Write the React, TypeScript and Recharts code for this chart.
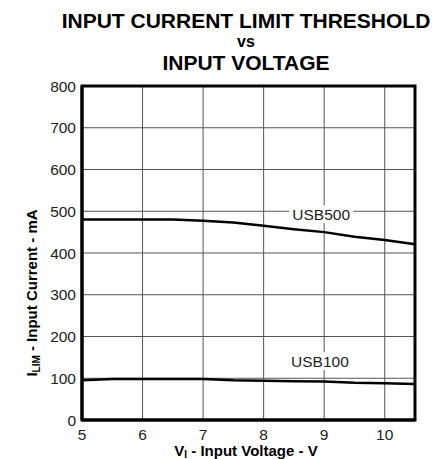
import {
    LineChart,
    Line,
    XAxis,
    YAxis,
    CartesianGrid,
    ReferenceArea,
    ReferenceDot,
} from "recharts"

// input voltage (V)
const voltage = [5, 5.5, 6, 6.5, 7, 7.5, 8, 8.5, 9, 9.5, 10, 10.5]
// current limit threshold (mA)
const usb500 = [480, 480, 480, 480, 477, 473, 465, 457, 450, 439, 431, 421]
const usb100 = [95, 98, 98, 98, 98, 95, 94, 93, 92, 89, 88, 86]

const xTicks = [5, 6, 7, 8, 9, 10]
const yTicks = [0, 100, 200, 300, 400, 500, 600, 700, 800]

const seriesLabels = [
    { name: "USB500", x: 8.95, y: 493 },
    { name: "USB100", x: 8.93, y: 141 },
]

const titleLines = [
    { text: "INPUT CURRENT LIMIT THRESHOLD", y: 20, size: 21 },
    { text: "vs", y: 42, size: 16 },
    { text: "INPUT VOLTAGE", y: 62, size: 21 },
]

const FONT = '"Liberation Sans", Arial, sans-serif'

const data = voltage.map((v, i) => ({
    v,
    usb500: usb500[i],
    usb100: usb100[i],
}))

function SeriesTag({ cx, cy, text }: { cx?: number; cy?: number; text: string }) {
    if (cx == null || cy == null) return null
    return (
        <g>
            <rect x={cx - 32} y={cy - 9} width={64} height={18} fill="#fff" />
            <text
                x={cx}
                y={cy}
                textAnchor="middle"
                dominantBaseline="central"
                fontSize={15.5}
                fontFamily={FONT}
                fill="#222"
            >
                {text}
            </text>
        </g>
    )
}

const subStyle = {
    fontSize: 10,
    position: "relative" as const,
    top: 3,
}

export default function App() {
    return (
        <div
            style={{
                position: "absolute",
                left: 0,
                top: 0,
                width: 436,
                height: 459,
                background: "#fff",
                fontFamily: FONT,
                color: "#000",
                overflow: "hidden",
            }}
        >
            {/* title */}
            {titleLines.map((t) => (
                <div
                    key={t.text}
                    style={{
                        position: "absolute",
                        left: 246,
                        top: t.y,
                        transform: "translate(-50%, -50%)",
                        whiteSpace: "nowrap",
                        fontWeight: "bold",
                        fontSize: t.size,
                        lineHeight: 1,
                    }}
                >
                    {t.text}
                </div>
            ))}

            <LineChart
                width={436}
                height={459}
                data={data}
                margin={{ top: 86, right: 21, bottom: 9, left: 0 }}
            >
                <CartesianGrid stroke="#555" strokeWidth={1} />
                <XAxis
                    dataKey="v"
                    type="number"
                    domain={[5, 10.5]}
                    ticks={xTicks}
                    height={30}
                    tickLine={false}
                    tickSize={7}
                    axisLine={{ stroke: "#000", strokeWidth: 3 }}
                    tick={{ fontSize: 15.5, fill: "#222", fontFamily: FONT }}
                />
                <YAxis
                    type="number"
                    domain={[0, 800]}
                    ticks={yTicks}
                    width={82}
                    tickLine={false}
                    tickSize={4}
                    axisLine={{ stroke: "#000", strokeWidth: 3 }}
                    tick={{ fontSize: 15.5, fill: "#222", fontFamily: FONT }}
                />
                <ReferenceArea
                    x1={5}
                    x2={10.5}
                    y1={0}
                    y2={800}
                    fill="none"
                    stroke="#000"
                    strokeWidth={3}
                />
                {seriesLabels.map((s) => (
                    <ReferenceDot
                        key={s.name}
                        x={s.x}
                        y={s.y}
                        r={0}
                        shape={(p: any) => <SeriesTag cx={p.cx} cy={p.cy} text={s.name} />}
                    />
                ))}
                <Line
                    dataKey="usb500"
                    stroke="#000"
                    strokeWidth={2.5}
                    dot={false}
                    type="linear"
                    isAnimationActive={false}
                />
                <Line
                    dataKey="usb100"
                    stroke="#000"
                    strokeWidth={2.5}
                    dot={false}
                    type="linear"
                    isAnimationActive={false}
                />
            </LineChart>

            {/* y axis title */}
            <div
                style={{
                    position: "absolute",
                    left: 33,
                    top: 293,
                    transform: "translate(-50%, -50%) rotate(-90deg)",
                    whiteSpace: "nowrap",
                    fontWeight: "bold",
                    fontSize: 15,
                    lineHeight: "16px",
                }}
            >
                I<span style={subStyle}>LIM</span> - Input Current - mA
            </div>

            {/* x axis title */}
            <div
                style={{
                    position: "absolute",
                    left: 246,
                    top: 451,
                    transform: "translate(-50%, -50%)",
                    whiteSpace: "nowrap",
                    fontWeight: "bold",
                    fontSize: 15,
                    lineHeight: "15px",
                }}
            >
                V<span style={{ ...subStyle, top: 2 }}>I</span> - Input Voltage - V
            </div>
        </div>
    )
}
